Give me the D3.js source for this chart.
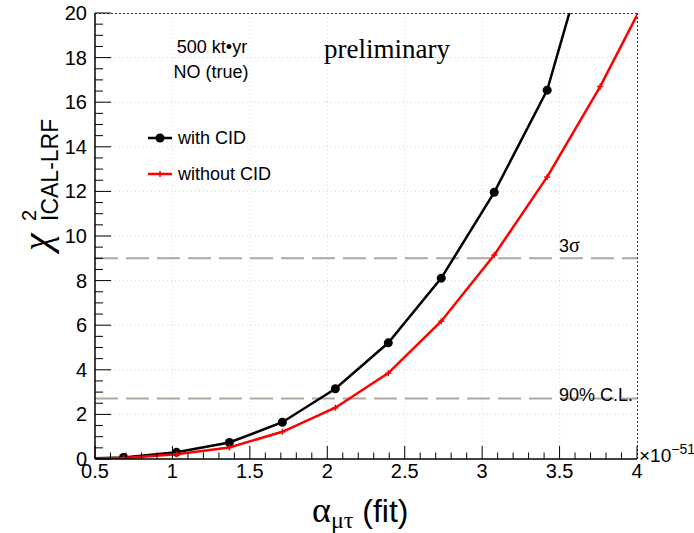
<!DOCTYPE html>
<html><head><meta charset="utf-8">
<script src="https://cdn.jsdelivr.net/npm/d3@7"></script>
<style>body{margin:0;background:#fff}svg{display:block}text{font-family:"Liberation Sans",Arial,sans-serif}text.serif,tspan.serif{font-family:"Liberation Serif","Times New Roman",serif}</style>
</head><body>
<svg id="c" width="694" height="533"></svg>
<script>
const alphaFit = [0.342,0.684,1.026,1.368,1.71,2.052,2.394,2.736,3.078,3.42,3.762,4.104];
const withCID = [0.01,0.07,0.30,0.74,1.65,3.15,5.21,8.11,11.96,16.54,24.8,34];
const withoutCID = [0.01,0.04,0.21,0.52,1.22,2.30,3.85,6.18,9.15,12.65,16.7,21.3];
const xTicks = [0.5,1,1.5,2,2.5,3,3.5,4];
const yTicks = [0,2,4,6,8,10,12,14,16,18,20];
const refLines = [{v:2.71,label:"90% C.L."},{v:9,label:"3σ"}];
const series = [
  {name:"with CID", values:withCID, color:"#000", marker:"circle"},
  {name:"without CID", values:withoutCID, color:"#ff0000", marker:"plus"}
];

const svg = d3.select("#c");
const L=95,R=637,T=13,B=459;
const x = d3.scaleLinear().domain([0.5,4]).range([L,R]);
const y = d3.scaleLinear().domain([0,20]).range([B,T]);

svg.append("defs").append("clipPath").attr("id","clip")
  .append("rect").attr("x",L).attr("y",T).attr("width",R-L).attr("height",B-T);

// grid
const g = svg.append("g");
g.selectAll(".gx").data(xTicks.slice(1,-1)).enter().append("line")
  .attr("x1",d=>x(d)).attr("x2",d=>x(d)).attr("y1",T).attr("y2",B)
  .attr("stroke","#d8d8d8").attr("stroke-width",1).attr("stroke-dasharray","1,3");
g.selectAll(".gy").data(yTicks.slice(1,-1)).enter().append("line")
  .attr("y1",d=>y(d)).attr("y2",d=>y(d)).attr("x1",L).attr("x2",R)
  .attr("stroke","#d8d8d8").attr("stroke-width",1).attr("stroke-dasharray","1,3");
// top & right dotted frame
svg.append("line").attr("x1",L).attr("x2",R).attr("y1",T+0.5).attr("y2",T+0.5)
  .attr("stroke","#333").attr("stroke-dasharray","2,2");
svg.append("line").attr("x1",R+0.5).attr("x2",R+0.5).attr("y1",T).attr("y2",B)
  .attr("stroke","#333").attr("stroke-dasharray","2,2");

// reference lines
refLines.forEach(r=>{
  svg.append("line").attr("x1",L).attr("x2",R).attr("y1",y(r.v)).attr("y2",y(r.v))
    .attr("stroke","#b2a79c").attr("stroke-width",2).attr("stroke-dasharray","23,8");
});
const t3 = svg.append("text").attr("x",559).attr("y",y(9)-6).attr("font-size",18);
t3.append("tspan").text("3");
t3.append("tspan").attr("class","serif").attr("font-size",20).text("σ");
svg.append("text").attr("x",559).attr("y",y(2.71)+2).attr("font-size",18).text("90% C.L.");

// series
const pc = svg.append("g").attr("clip-path","url(#clip)");
series.forEach(s=>{
  const pts = alphaFit.map((a,i)=>[a,s.values[i]]);
  pc.append("path").datum(pts)
    .attr("d",d3.line().x(d=>x(d[0])).y(d=>y(d[1])))
    .attr("fill","none").attr("stroke",s.color).attr("stroke-width",2.5);
  if(s.marker==="circle"){
    pc.selectAll(null).data(pts).enter().append("circle")
      .attr("cx",d=>x(d[0])).attr("cy",d=>y(d[1])).attr("r",4.5).attr("fill",s.color);
  } else {
    pc.selectAll(null).data(pts).enter().append("path")
      .attr("d",d=>`M${x(d[0])-3},${y(d[1])}h6M${x(d[0])},${y(d[1])-3}v6`)
      .attr("stroke",s.color).attr("stroke-width",1.5);
  }
});

// axes
const ax = svg.append("g");
ax.append("line").attr("x1",L).attr("x2",R).attr("y1",B).attr("y2",B).attr("stroke","#000").attr("stroke-width",1.5);
ax.append("line").attr("x1",L).attr("x2",L).attr("y1",T).attr("y2",B).attr("stroke","#000").attr("stroke-width",1.5);
// x ticks
const xMinor = d3.range(5,41).map(v=>v/10);
ax.selectAll(null).data(xMinor).enter().append("line")
  .attr("x1",d=>x(d)).attr("x2",d=>x(d)).attr("y1",B).attr("y2",d=>B-(Math.abs(d*2-Math.round(d*2))<1e-6?13:6.5))
  .attr("stroke","#000").attr("stroke-width",1);
ax.selectAll(null).data(xTicks).enter().append("text")
  .attr("x",d=>x(d)).attr("y",B+19).attr("text-anchor","middle").attr("font-size",20)
  .text(d=>d3.format("")(d));
// y ticks
const yMinor = d3.range(0,41).map(v=>v/2);
ax.selectAll(null).data(yMinor).enter().append("line")
  .attr("y1",d=>y(d)).attr("y2",d=>y(d)).attr("x1",L).attr("x2",d=>L+(d%2===0?16:8))
  .attr("stroke","#000").attr("stroke-width",1);
ax.selectAll(null).data(yTicks).enter().append("text")
  .attr("x",L-8).attr("y",d=>y(d)+7).attr("text-anchor","end").attr("font-size",20)
  .text(d=>d);

// exponent
const ex = svg.append("text").attr("x",639).attr("y",B+3).attr("font-size",19);
ex.append("tspan").text("×10");
ex.append("tspan").attr("dy",-8).attr("font-size",14).text("−51");

// x label
const xl = svg.append("text").attr("x",312).attr("y",522).attr("font-size",32);
xl.append("tspan").attr("class","serif").attr("font-size",36).text("α");
xl.append("tspan").attr("class","serif").attr("dy",6).attr("font-size",24).text("μτ");
xl.append("tspan").attr("dy",-6).attr("font-size",32).text(" (fit)");

// y label
const yl = svg.append("g").attr("transform","translate(50,251) rotate(-90)");
yl.append("text").attr("class","serif").attr("x",0).attr("y",0).attr("font-size",40).attr("font-style","italic").text("χ");
yl.append("text").attr("x",30).attr("y",-14).attr("font-size",20).text("2");
yl.append("text").attr("x",30).attr("y",8).attr("font-size",23).text("ICAL-LRF");

// annotations
svg.append("text").attr("x",212).attr("y",53).attr("text-anchor","middle").attr("font-size",18).text("500 kt•yr");
svg.append("text").attr("x",211).attr("y",78).attr("text-anchor","middle").attr("font-size",18).text("NO (true)");
svg.append("text").attr("class","serif").attr("x",324).attr("y",58).attr("font-size",27).text("preliminary");

// legend
series.forEach((s,i)=>{
  const ly = 138 + i*36;
  svg.append("line").attr("x1",148).attr("x2",172).attr("y1",ly).attr("y2",ly).attr("stroke",s.color).attr("stroke-width",2.5);
  if(s.marker==="circle") svg.append("circle").attr("cx",160).attr("cy",ly).attr("r",4.5).attr("fill",s.color);
  else svg.append("path").attr("d",`M157,${ly}h6M160,${ly-3}v6`).attr("stroke",s.color).attr("stroke-width",1.5);
  svg.append("text").attr("x",178).attr("y",ly+6).attr("font-size",18).text(s.name);
});
</script>
</body></html>
